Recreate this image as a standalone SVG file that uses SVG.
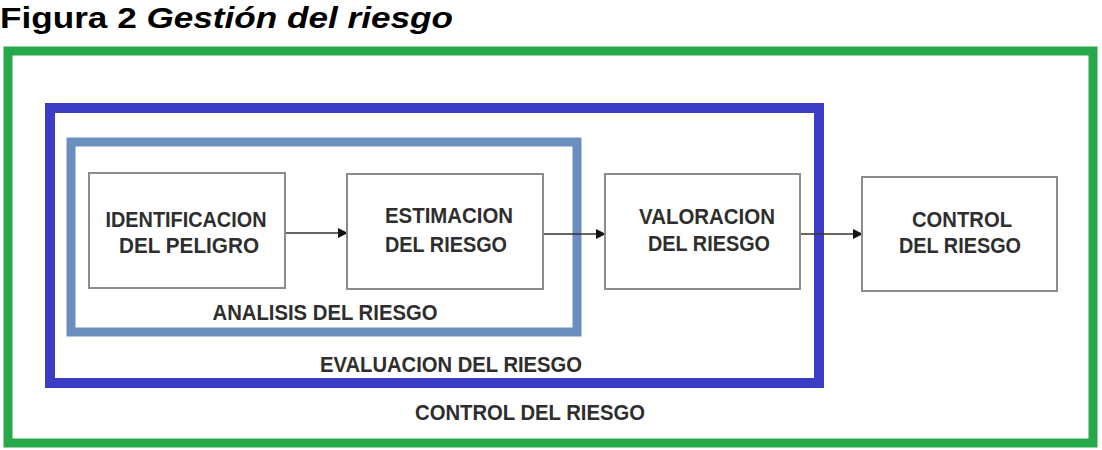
<svg xmlns="http://www.w3.org/2000/svg" width="1102" height="450" viewBox="0 0 1102 450">
<style>
.frame{fill:none}
.box{fill:#fff;stroke:#8c8c8c;stroke-width:2}
.t{font-family:"Liberation Sans",Arial,sans-serif;font-weight:bold;font-size:22px;fill:#2e2e2e;text-anchor:middle}
.title{font-family:"Liberation Sans",Arial,sans-serif;font-weight:bold;font-size:30px;fill:#000}
.conn{stroke:#333;stroke-width:1.5;fill:none}
</style>
<defs>
<marker id="ah" markerWidth="10" markerHeight="10" refX="9" refY="5" orient="auto" markerUnits="userSpaceOnUse">
<path d="M0,0 L10,5 L0,10 Z" fill="#111"/>
</marker>
</defs>
<rect width="1102" height="450" fill="#fff"/>
<text class="title" x="0" y="28" textLength="453" lengthAdjust="spacingAndGlyphs">Figura 2 <tspan font-style="italic">Gestión del riesgo</tspan></text>

<g id="control-frame">
<rect class="frame" x="8" y="51" width="1085" height="392" stroke="#27a84a" stroke-width="9"/>
<text class="t" x="530" y="420" textLength="230" lengthAdjust="spacingAndGlyphs">CONTROL DEL RIESGO</text>
</g>
<g id="evaluacion-frame">
<rect class="frame" x="50" y="108" width="769" height="275" stroke="#3b3ec4" stroke-width="10"/>
<text class="t" x="451" y="372" textLength="262" lengthAdjust="spacingAndGlyphs">EVALUACION DEL RIESGO</text>
</g>
<g id="analisis-frame">
<rect class="frame" x="71" y="142" width="506" height="190" stroke="#6a8fbf" stroke-width="9"/>
<text class="t" x="325" y="320" textLength="225" lengthAdjust="spacingAndGlyphs">ANALISIS DEL RIESGO</text>
</g>

<g id="connectors">
<line class="conn" x1="285" y1="233" x2="347" y2="233" marker-end="url(#ah)"/>
<line class="conn" x1="543" y1="234" x2="605" y2="234" marker-end="url(#ah)"/>
<line class="conn" x1="800" y1="234" x2="862" y2="234" marker-end="url(#ah)"/>
</g>

<g id="identificacion">
<rect class="box" x="89" y="173" width="196" height="115"/>
<text class="t" x="186" y="227" textLength="161" lengthAdjust="spacingAndGlyphs">IDENTIFICACION</text>
<text class="t" x="189" y="253" textLength="140" lengthAdjust="spacingAndGlyphs">DEL PELIGRO</text>
</g>
<g id="estimacion">
<rect class="box" x="347" y="174" width="196" height="115"/>
<text class="t" x="449" y="223" textLength="128" lengthAdjust="spacingAndGlyphs">ESTIMACION</text>
<text class="t" x="446" y="252" textLength="122" lengthAdjust="spacingAndGlyphs">DEL RIESGO</text>
</g>
<g id="valoracion">
<rect class="box" x="605" y="174" width="195" height="115"/>
<text class="t" x="707" y="224" textLength="136" lengthAdjust="spacingAndGlyphs">VALORACION</text>
<text class="t" x="709" y="251" textLength="122" lengthAdjust="spacingAndGlyphs">DEL RIESGO</text>
</g>
<g id="control">
<rect class="box" x="862" y="177" width="195" height="114"/>
<text class="t" x="962" y="227" textLength="100" lengthAdjust="spacingAndGlyphs">CONTROL</text>
<text class="t" x="960" y="253" textLength="122" lengthAdjust="spacingAndGlyphs">DEL RIESGO</text>
</g>
</svg>
